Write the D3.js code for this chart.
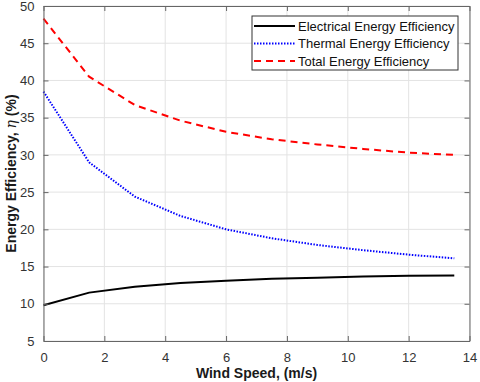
<!DOCTYPE html>
<html>
<head>
<meta charset="utf-8">
<script src="https://cdn.jsdelivr.net/npm/d3@7"></script>
<style>
  body { margin: 0; background: #fff; }
  text { font-family: "Liberation Sans", Arial, sans-serif; }
</style>
</head>
<body>
<div id="chart"></div>
<script>
const windSpeed = [0, 1.5, 3, 4.5, 6, 7.5, 9, 10.5, 12, 13.5];
const electrical = [9.8, 11.5, 12.3, 12.8, 13.1, 13.35, 13.5, 13.65, 13.75, 13.8];
const thermal = [38.5, 29.0, 24.4, 21.8, 20.0, 18.8, 17.9, 17.2, 16.6, 16.1];
const total = [48.3, 40.5, 36.7, 34.6, 33.1, 32.1, 31.4, 30.8, 30.3, 30.0];
const xTicks = [0, 2, 4, 6, 8, 10, 12, 14];
const yTicks = [5, 10, 15, 20, 25, 30, 35, 40, 45, 50];

const series = [
  { name: 'Electrical Energy Efficiency', values: electrical, color: '#000', width: 2, dash: null },
  { name: 'Thermal Energy Efficiency', values: thermal, color: '#0000ff', width: 2, dash: '1.5,1.5' },
  { name: 'Total Energy Efficiency', values: total, color: '#ff0000', width: 2, dash: '7,5' }
];

const width = 480, height = 382;
const margin = { left: 43.5, right: 10.5, top: 6, bottom: 41 };
const axisColor = '#666';

const svg = d3.select('#chart').append('svg')
  .attr('width', width)
  .attr('height', height);

const x = d3.scaleLinear().domain([0, 14]).range([margin.left, width - margin.right]);
const y = d3.scaleLinear().domain([5, 50]).range([height - margin.bottom, margin.top]);

// grid
const grid = svg.append('g');
grid.selectAll('line.gx')
  .data(xTicks)
  .join('line')
  .attr('x1', d => x(d)).attr('x2', d => x(d))
  .attr('y1', y(5)).attr('y2', y(50))
  .attr('stroke', '#e3e3e3').attr('stroke-width', 1);
grid.selectAll('line.gy')
  .data(yTicks)
  .join('line')
  .attr('class', 'gy')
  .attr('x1', x(0)).attr('x2', x(14))
  .attr('y1', d => y(d)).attr('y2', d => y(d))
  .attr('stroke', '#e3e3e3').attr('stroke-width', 1);

// lines
const line = vals => d3.line()
  .x((d, i) => x(windSpeed[i]))
  .y(d => y(d))(vals);

svg.append('g')
  .selectAll('path')
  .data(series)
  .join('path')
  .attr('d', d => line(d.values))
  .attr('fill', 'none')
  .attr('stroke', d => d.color)
  .attr('stroke-width', d => d.width)
  .attr('stroke-dasharray', d => d.dash);

// axes
const xAxis = svg.append('g')
  .attr('transform', `translate(0,${y(5)})`)
  .call(d3.axisBottom(x).tickValues(xTicks).tickSizeInner(-5).tickSizeOuter(0).tickPadding(12));
const yAxis = svg.append('g')
  .attr('transform', `translate(${x(0)},0)`)
  .call(d3.axisLeft(y).tickValues(yTicks).tickSizeInner(-5).tickSizeOuter(0).tickPadding(9));
const xTop = svg.append('g')
  .attr('transform', `translate(0,${y(50)})`)
  .call(d3.axisTop(x).tickValues(xTicks).tickSizeInner(-5).tickSizeOuter(0).tickFormat(''));
const yRight = svg.append('g')
  .attr('transform', `translate(${x(14)},0)`)
  .call(d3.axisRight(y).tickValues(yTicks).tickSizeInner(-5).tickSizeOuter(0).tickFormat(''));

[xAxis, yAxis, xTop, yRight].forEach(g => {
  g.select('.domain').attr('stroke', axisColor).attr('stroke-width', 1);
  g.selectAll('.tick line').attr('stroke', axisColor);
  g.selectAll('.tick text')
    .attr('fill', '#333')
    .style('font-size', '13px')
    .style('font-family', '"Liberation Sans", Arial, sans-serif');
});

// axis labels
svg.append('text')
  .attr('x', (x(0) + x(14)) / 2)
  .attr('y', 378)
  .attr('text-anchor', 'middle')
  .attr('font-weight', 'bold')
  .attr('font-size', 14)
  .attr('fill', '#1a1a1a')
  .text('Wind Speed, (m/s)');

const yl = svg.append('text')
  .attr('transform', `translate(15.5,${(y(5) + y(50)) / 2}) rotate(-90)`)
  .attr('text-anchor', 'middle')
  .attr('font-weight', 'bold')
  .attr('font-size', 14)
  .attr('fill', '#1a1a1a');
yl.append('tspan').text('Energy Efficiency, ');
yl.append('tspan').attr('font-weight', 'normal').attr('font-style', 'italic').attr('font-family', '"DejaVu Serif", serif').text('η');
yl.append('tspan').text(' (%)');

// legend
const legend = svg.append('g').attr('transform', 'translate(252,16)');
legend.append('rect')
  .attr('width', 206).attr('height', 54)
  .attr('fill', '#fff').attr('stroke', '#333').attr('stroke-width', 1);
const item = legend.selectAll('g.item')
  .data(series)
  .join('g')
  .attr('class', 'item')
  .attr('transform', (d, i) => `translate(0,${10 + i * 17.5})`);
item.append('line')
  .attr('x1', 2).attr('x2', 43)
  .attr('stroke', d => d.color)
  .attr('stroke-width', d => d.width)
  .attr('stroke-dasharray', d => d.dash);
item.append('text')
  .attr('x', 46).attr('y', 4.5)
  .attr('font-size', 13)
  .attr('fill', '#111')
  .text(d => d.name);
</script>
</body>
</html>
